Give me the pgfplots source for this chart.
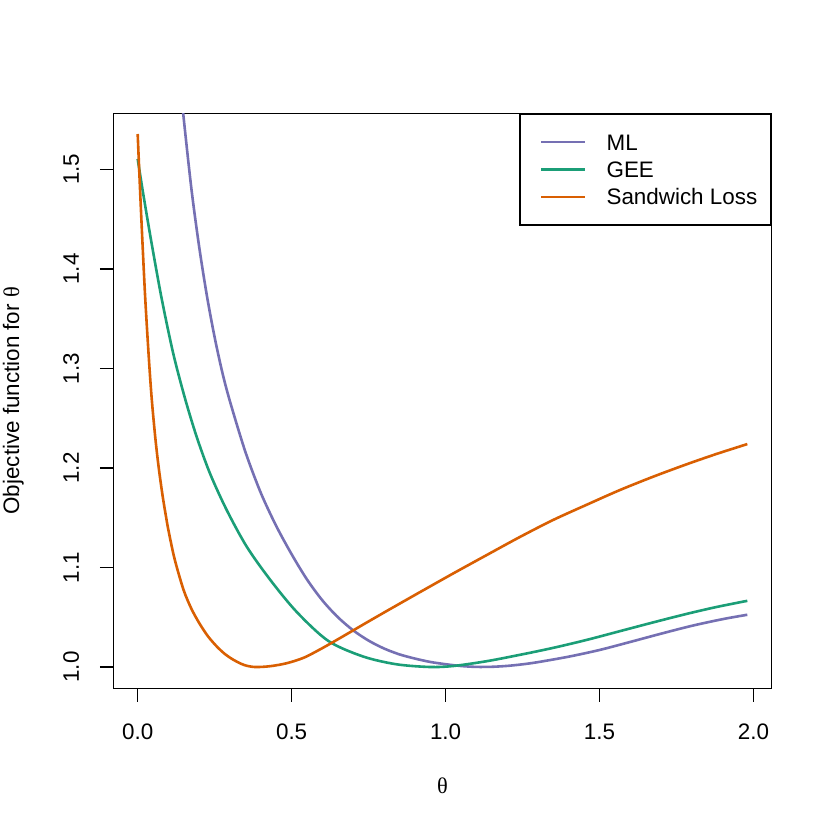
\documentclass[border=0pt]{standalone}
\usepackage{fontspec}
\setmainfont{Liberation Sans}
\newfontfamily\greekserif{Liberation Serif}
\usepackage{pgfplots}
\pgfplotsset{compat=1.18}
\definecolor{mlc}{HTML}{7570B3}
\definecolor{geec}{HTML}{1B9E77}
\definecolor{swc}{HTML}{D95F02}
\newcommand{\rfont}{\fontsize{11.2}{13.4}\selectfont}
\begin{document}
\rfont
\begin{tikzpicture}
\path[use as bounding box] (0,0) rectangle (415pt,415pt);
\begin{axis}[
  at={(56.65pt,70.85pt)}, anchor=south west,
  scale only axis, width=329.2pt, height=287.5pt,
  xmin=-0.0792, xmax=2.0592, ymin=0.9786, ymax=1.5564,
  axis line style={line width=0.65pt},
  xtick={0,0.5,1,1.5,2},
  ytick={1.0,1.1,1.2,1.3,1.4,1.5},
  tick pos=left,
  tick align=outside,
  major tick length=6.67pt,
  tick style={line width=0.65pt, black},
  /pgf/number format/.cd, fixed, fixed zerofill, precision=1, assume math mode=true,
  /pgfplots/.cd,
  tick label style={font=\rfont},
  xticklabel style={anchor=base, yshift=-18.75pt},
  yticklabel style={xshift=-10.5pt, rotate=90, anchor=base},
  xlabel={{\greekserif θ}},
  ylabel={Objective function for {\greekserif θ}},
  label style={font=\rfont},
  xlabel style={at={(axis description cs:0.5,-0.1821)}, anchor=base},
  ylabel style={at={(axis description cs:-0.1432,0.5)}, anchor=base},
  legend cell align=left,
  legend image code/.code={\path (0pt,0pt); \draw[#1, line width=1.3pt] (3.1pt,0pt) -- (24.8pt,0pt);},
  legend style={at={(rel axis cs:1,1)}, anchor=north east, draw=black,
    line width=0.65pt, inner xsep=6.9pt, inner ysep=10.1pt,
    /tikz/row sep=5.66pt, /tikz/column sep=10.3pt, font=\rfont,
    nodes={inner sep=0pt, text height=8.02pt, text depth=0pt}},
]
\addplot[mlc, line width=1.3pt, smooth] coordinates {
(0.138,1.588) (0.15,1.5497) (0.175,1.4792) (0.2,1.4216) (0.225,1.3727)
(0.25,1.3312) (0.275,1.2959) (0.3,1.2666) (0.35,1.2160) (0.4,1.1749)
(0.45,1.1417) (0.5,1.1133) (0.55,1.0879) (0.6,1.0669) (0.65,1.0501)
(0.7,1.0368) (0.75,1.0265) (0.8,1.0186) (0.85,1.0127) (0.9,1.0085)
(0.95,1.0051) (1.0,1.0028) (1.05,1.0010) (1.1,1.0001) (1.15,1.0002)
(1.2,1.0011) (1.25,1.0027) (1.3,1.0049) (1.4,1.0104) (1.5,1.0171)
(1.6,1.0252) (1.7,1.0335) (1.8,1.0414) (1.9,1.0481) (1.98,1.0525)
};
\addlegendentry{ML}
\addplot[geec, line width=1.3pt, smooth] coordinates {
(0,1.5105) (0.018,1.4754) (0.0455,1.4253) (0.078,1.3700) (0.1156,1.3149)
(0.1536,1.2700) (0.1916,1.2313) (0.2347,1.1946) (0.289,1.1578) (0.354,1.1210)
(0.4295,1.0880) (0.516,1.0555) (0.619,1.0262) (0.7325,1.0105) (0.841,1.0027)
(0.949,1.0000) (1.0247,1.0010) (1.133,1.0058) (1.241,1.0122) (1.349,1.0192)
(1.458,1.0272) (1.566,1.0360) (1.674,1.0448) (1.782,1.0533) (1.88,1.0603)
(1.98,1.0665)
};
\addlegendentry{GEE}
\addplot[swc, line width=1.3pt, smooth] coordinates {
(0,1.5356) (0.0107,1.4587) (0.0237,1.3751) (0.0367,1.3082) (0.046,1.268)
(0.058,1.228) (0.069,1.1986) (0.081,1.1719) (0.092,1.1511) (0.1,1.1373)
(0.12,1.1084) (0.149,1.0775) (0.1744,1.0586) (0.2,1.0441) (0.2284,1.0308)
(0.257,1.0206) (0.2835,1.0130) (0.31,1.0074) (0.345,1.0021) (0.38,1.0000)
(0.43,1.0008) (0.484,1.0038) (0.54,1.0094) (0.6,1.0190) (0.65,1.0278)
(0.70,1.0368) (0.76,1.0476) (0.83,1.0600) (0.9166,1.0752) (1.0247,1.0940)
(1.133,1.1124) (1.241,1.1306) (1.349,1.1477) (1.458,1.1630) (1.566,1.1778)
(1.674,1.1912) (1.782,1.2036) (1.88,1.2141) (1.98,1.2240)
};
\addlegendentry{Sandwich Loss}
\end{axis}
\end{tikzpicture}
\end{document}
